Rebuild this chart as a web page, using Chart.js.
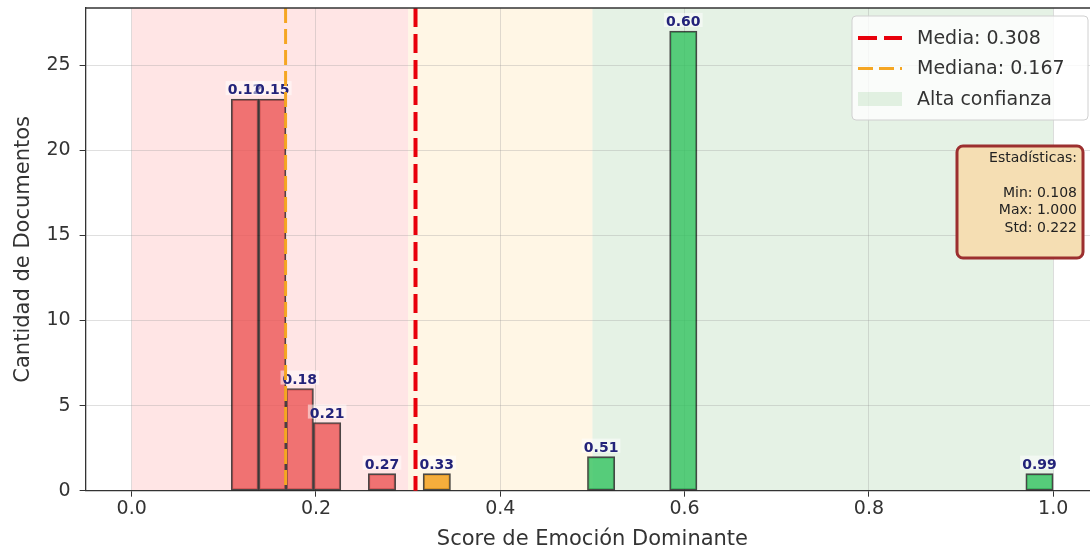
<!DOCTYPE html>
<html>
<head>
<meta charset="utf-8">
<script src="https://cdn.jsdelivr.net/npm/chart.js@4.4.1/dist/chart.umd.min.js"></script>
<style>
  html, body { margin: 0; padding: 0; background: #fff; overflow: hidden; }
</style>
</head>
<body>
<canvas id="histChart" width="1110" height="556"></canvas>
<script>
// histogram: bin centres and document counts
const binCenters = [0.1229, 0.1526, 0.1824, 0.2121, 0.2716, 0.3311, 0.5094, 0.5986, 0.9851];
const binCounts = [23, 23, 6, 4, 1, 1, 2, 27, 1];
const xTicks = [0.0, 0.2, 0.4, 0.6, 0.8, 1.0];
const yTicks = [0, 5, 10, 15, 20, 25];
const meanScore = 0.308;
const medianScore = 0.167;
const statsLines = ['Estadísticas:', '', 'Min: 0.108', 'Max: 1.000', 'Std: 0.222'];
// confidence zones: baja / media / alta
const zoneEdges = [0, 0.3, 0.5, 1.0];

const FONT = 'DejaVu Sans';

function barColor(c) {
  if (c < 0.3) return 'rgba(236, 85, 85, 0.8)';
  if (c < 0.5) return 'rgba(243, 156, 18, 0.8)';
  return 'rgba(50, 195, 95, 0.8)';
}
const zoneColors = ['rgba(255,0,0,0.1)', 'rgba(255,165,0,0.1)', 'rgba(0,128,0,0.1)'];

const decor = {
  id: 'decor',
  beforeDraw(chart) {
    const { ctx, chartArea: a, scales: { x } } = chart;
    ctx.save();
    for (let i = 0; i < zoneColors.length; i++) {
      const x0 = x.getPixelForValue(zoneEdges[i]);
      const x1 = x.getPixelForValue(zoneEdges[i + 1]);
      ctx.fillStyle = zoneColors[i];
      ctx.fillRect(x0, a.top, x1 - x0, a.bottom - a.top);
    }
    ctx.restore();
  },
  afterDatasetsDraw(chart) {
    const { ctx, chartArea: a, scales: { x } } = chart;
    ctx.save();
    // value labels over the bars
    const meta = chart.getDatasetMeta(0);
    ctx.font = 'bold 14px ' + FONT;
    ctx.textAlign = 'center';
    ctx.textBaseline = 'alphabetic';
    meta.data.forEach((bar, i) => {
      const txt = binCenters[i].toFixed(2);
      const w = ctx.measureText(txt).width;
      ctx.fillStyle = 'rgba(255,255,255,0.5)';
      ctx.fillRect(bar.x - w / 2 - 2, bar.y - 18, w + 4, 14);
      ctx.fillStyle = '#23237a';
      ctx.fillText(txt, bar.x, bar.y - 5);
    });
    // mean / median lines
    const vline = (v, color, width, dash) => {
      const px = x.getPixelForValue(v);
      ctx.beginPath();
      ctx.setLineDash(dash);
      ctx.strokeStyle = color;
      ctx.lineWidth = width;
      ctx.moveTo(px, a.top);
      ctx.lineTo(px, a.bottom);
      ctx.stroke();
    };
    vline(meanScore, '#e8000b', 4, [19, 7]);
    vline(medianScore, '#f5a623', 3, [15, 6]);
    ctx.setLineDash([]);
    // top spine
    ctx.strokeStyle = '#333';
    ctx.lineWidth = 1.3;
    ctx.beginPath();
    ctx.moveTo(a.left, a.top);
    ctx.lineTo(a.right, a.top);
    ctx.stroke();
    ctx.restore();
  },
  afterDraw(chart) {
    const { ctx } = chart;
    ctx.save();
    const rr = (x0, y0, w, h, r) => {
      ctx.beginPath();
      ctx.roundRect(x0, y0, w, h, r);
    };
    // legend
    rr(852, 16, 236, 104, 4);
    ctx.fillStyle = 'rgba(255,255,255,0.8)';
    ctx.fill();
    ctx.strokeStyle = '#d0d0d0';
    ctx.lineWidth = 1;
    ctx.stroke();
    ctx.font = '19px ' + FONT;
    ctx.textAlign = 'left';
    ctx.textBaseline = 'middle';
    const legendRows = [
      { label: 'Media: ' + meanScore.toFixed(3), color: '#e8000b', width: 4, dash: [19, 7] },
      { label: 'Mediana: ' + medianScore.toFixed(3), color: '#f5a623', width: 3, dash: [15, 6] },
      { label: 'Alta confianza', fill: 'rgba(0,128,0,0.1)' }
    ];
    legendRows.forEach((r, i) => {
      const cy = 38 + i * 30.5;
      if (r.fill) {
        ctx.fillStyle = r.fill;
        ctx.fillRect(858, cy - 7, 44, 14);
      } else {
        ctx.beginPath();
        ctx.setLineDash(r.dash);
        ctx.strokeStyle = r.color;
        ctx.lineWidth = r.width;
        ctx.moveTo(858, cy);
        ctx.lineTo(902, cy);
        ctx.stroke();
        ctx.setLineDash([]);
      }
      ctx.fillStyle = '#333';
      ctx.fillText(r.label, 917, cy + 1);
    });
    // statistics box
    rr(957, 146, 126, 112, 6);
    ctx.fillStyle = '#f5deb3';
    ctx.fill();
    ctx.strokeStyle = '#9c2f2f';
    ctx.lineWidth = 3;
    ctx.stroke();
    ctx.font = '14px ' + FONT;
    ctx.textAlign = 'right';
    ctx.fillStyle = '#222';
    statsLines.forEach((t, i) => {
      ctx.fillText(t, 1077, 158 + i * 17.5);
    });
    ctx.restore();
  }
};

new Chart(document.getElementById('histChart'), {
  type: 'bar',
  data: {
    datasets: [{
      data: binCenters.map((c, i) => ({ x: c, y: binCounts[i] })),
      backgroundColor: binCenters.map(barColor),
      borderColor: 'rgba(0,0,0,0.7)',
      borderWidth: 1.6,
      borderSkipped: false,
      barPercentage: 1,
      categoryPercentage: 1
    }]
  },
  options: {
    responsive: false,
    animation: false,
    devicePixelRatio: 1,
    layout: { padding: { top: 8, right: 10.7, left: 0, bottom: 0 } },
    plugins: { legend: { display: false }, tooltip: { enabled: false } },
    scales: {
      x: {
        type: 'linear',
        min: -0.05,
        max: 1.05,
        offset: false,
        afterBuildTicks: s => { s.ticks = xTicks.map(v => ({ value: v })); },
        afterFit: s => { s.height = 65.3; s.paddingLeft = 0; s.paddingRight = 0; },
        ticks: {
          font: { family: FONT, size: 19 },
          color: '#333',
          padding: 1,
          maxRotation: 0,
          autoSkip: false,
          callback: v => v.toFixed(1)
        },
        grid: { offset: false, color: 'rgba(150,150,150,0.3)', tickColor: '#333', tickLength: 6 },
        border: { color: '#333', width: 1.3 },
        title: {
          display: true,
          text: 'Score de Emoción Dominante',
          font: { family: FONT, size: 21 },
          color: '#333',
          padding: { top: 0, bottom: 4 }
        }
      },
      y: {
        min: 0,
        max: Math.max(...binCounts) * 1.05,
        afterBuildTicks: s => { s.ticks = yTicks.map(v => ({ value: v })); },
        afterFit: s => { s.width = 85.6; s.paddingTop = 0; s.paddingBottom = 0; },
        ticks: {
          font: { family: FONT, size: 19 },
          color: '#333',
          padding: 9
        },
        grid: { color: 'rgba(150,150,150,0.3)', tickColor: '#333', tickLength: 6 },
        border: { color: '#333', width: 1.3 },
        title: {
          display: true,
          text: 'Cantidad de Documentos',
          font: { family: FONT, size: 21 },
          color: '#333',
          padding: { top: 11, bottom: 0 }
        }
      }
    }
  },
  plugins: [decor]
});
</script>
</body>
</html>
